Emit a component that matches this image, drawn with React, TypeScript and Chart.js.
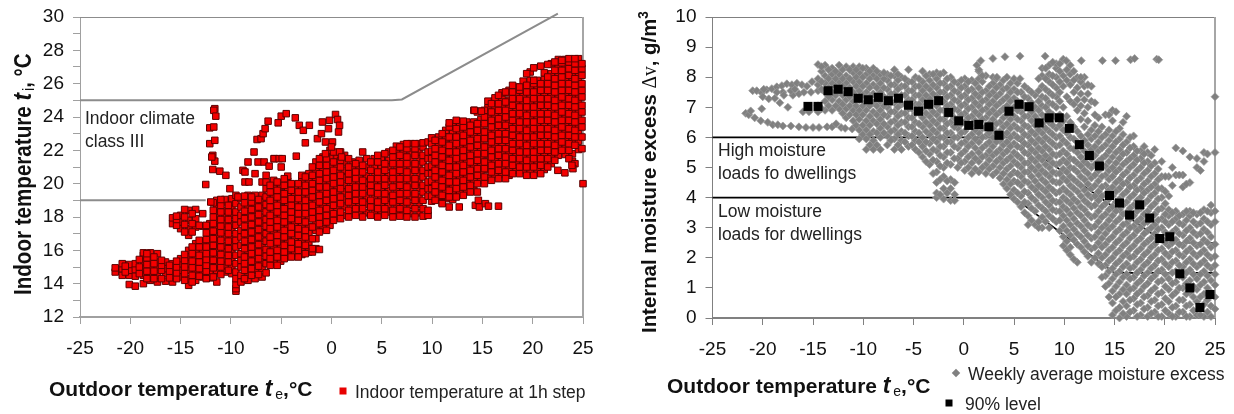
import React, { useEffect, useRef } from "react";
import { Chart, registerables } from "chart.js";

Chart.register(...registerables);

// ---------- left chart data: [outdoor temperature, indoor temperatures...] ----------
const indoorColdColumns: number[][] = [
  [-21.5, 14.7, 14.95],
  [-20.8, 14.5, 14.9, 15.2],
  [-20.1, 13.95, 14.5, 14.8, 15.15],
  [-19.5, 13.85, 14.45, 14.85, 15.2],
  [-18.7, 14.0, 14.5, 14.9, 15.3, 15.7, 15.85],
  [-18.0, 14.2, 14.6, 15.0, 15.4, 15.85],
  [-17.3, 14.1, 14.5, 14.95, 15.3, 15.8],
  [-16.5, 14.15, 14.6, 14.9, 15.3],
  [-15.8, 14.1, 14.5, 14.85, 15.2, 17.6, 17.95],
  [-15.0, 14.4, 14.8, 15.2, 15.5, 17.3, 17.7, 18.1],
  [-14.2, 13.9, 14.3, 14.8, 15.2, 15.6, 16.0, 16.9, 17.3, 17.8, 18.4],
  [-13.5, 14.2, 14.7, 15.1, 15.5, 15.9, 16.4, 17.4, 17.9, 18.45],
  [-12.8, 14.4, 14.8, 15.2, 15.6, 16.0, 16.5, 17.45, 18.2],
  [-12.1, 14.35, 14.7, 15.0, 15.5, 15.9, 16.3, 16.8, 17.2, 17.6],
  [-11.4, 14.1, 14.8, 15.2, 15.6, 16.1, 16.5, 16.9, 17.4, 17.8, 18.2, 18.6, 19.0],
  [-10.6, 14.7, 15.1, 15.5, 15.9, 16.3, 16.8, 17.2, 17.6, 18.0, 18.4, 18.9, 19.05],
  [-9.9, 14.6, 15.0, 15.5, 15.9, 16.3, 16.7, 17.2, 17.6, 18.1, 18.5, 18.9, 19.1],
  [-9.5, 13.55, 13.7, 13.95, 14.3, 14.7, 15.2, 15.7, 16.2, 16.6, 17.0, 17.5, 17.9, 18.3, 18.8, 19.3],
  [-9.0, 14.1, 14.5, 15.0, 15.4, 15.8, 16.3, 16.8, 17.2, 17.7, 18.1, 18.6, 19.1],
  [-8.3, 14.2, 14.7, 15.1, 15.6, 16.0, 16.4, 16.9, 17.3, 17.8, 18.2, 18.7, 19.3],
  [-7.6, 14.3, 14.8, 15.3, 15.7, 16.1, 16.6, 17.0, 17.5, 17.9, 18.4, 18.8, 19.3],
  [-6.9, 14.4, 14.9, 15.3, 15.8, 16.2, 16.7, 17.1, 17.6, 18.0, 18.5, 18.9, 19.3, 20.1],
];
const indoorColdInfill: number[][] = [
  [-20.5, 14.7, 15.05],
  [-19.1, 14.6, 15.0, 15.45],
  [-18.35, 14.3, 14.75, 15.15, 15.55, 15.8],
  [-17.65, 14.3, 14.75, 15.2, 15.6],
  [-16.9, 14.3, 14.8, 15.1, 15.4],
  [-16.1, 14.35, 14.75, 15.1],
  [-15.4, 14.3, 14.65, 15.0, 15.35, 17.5, 17.85, 18.05],
  [-14.6, 14.2, 14.6, 15.0, 15.4, 15.75, 17.1, 17.55, 18.0, 18.45],
  [-13.85, 14.1, 14.5, 14.95, 15.35, 15.8, 16.2, 17.1, 17.6, 18.2],
  [-13.15, 14.45, 14.9, 15.3, 15.7, 16.2, 16.6, 17.5],
  [-12.45, 14.3, 14.75, 15.1, 15.45, 15.8, 16.2, 16.65, 17.05, 17.5],
  [-11.75, 14.4, 14.95, 15.4, 15.85, 16.3, 16.7, 17.15, 17.6, 18.0, 18.4, 18.85],
  [-11.0, 14.55, 15.0, 15.35, 15.75, 16.2, 16.6, 17.05, 17.45, 17.85, 18.3, 18.7, 19.05],
  [-10.25, 14.8, 15.3, 15.7, 16.1, 16.55, 17.0, 17.4, 17.85, 18.3, 18.7],
  [-8.65, 14.3, 14.8, 15.2, 15.6, 16.1, 16.55, 17.0, 17.45, 17.9, 18.35, 18.85, 19.25],
  [-7.95, 14.5, 14.9, 15.35, 15.8, 16.2, 16.65, 17.1, 17.55, 18.0, 18.45, 18.9, 19.2],
  [-7.25, 14.55, 15.05, 15.5, 15.9, 16.35, 16.8, 17.25, 17.7, 18.15, 18.6, 19.05],
  [-6.5, 14.65, 15.2, 15.65, 16.05, 16.55, 17.0, 17.45, 17.85, 18.3, 18.75, 19.2, 19.7, 20.1],
];
const indoorMildColumns: number[][] = [
  [-6.1, 15.1, 15.5, 15.9, 16.4, 16.8, 17.3, 17.7, 18.1, 18.6, 19.0, 19.5, 19.9],
  [-5.4, 15.1, 15.6, 16.0, 16.5, 16.9, 17.4, 17.8, 18.3, 18.7, 19.2, 19.6, 20.1],
  [-4.7, 15.5, 15.9, 16.3, 16.8, 17.2, 17.7, 18.1, 18.5, 19.0, 19.4, 19.9, 20.3],
  [-4.0, 15.6, 16.1, 16.5, 17.0, 17.4, 17.9, 18.3, 18.7, 19.1, 19.6, 20.0],
  [-3.3, 15.6, 16.0, 16.4, 16.9, 17.3, 17.8, 18.2, 18.6, 19.1, 19.5, 20.0],
  [-2.6, 15.8, 16.3, 16.8, 17.2, 17.7, 18.2, 18.6, 19.0, 19.5, 19.9, 20.4],
  [-1.9, 15.9, 16.1, 16.7, 17.4, 17.9, 18.3, 18.7, 19.2, 19.6, 20.0, 20.5, 21.0],
  [-1.2, 16.05, 17.1, 17.6, 18.0, 18.4, 18.9, 19.3, 19.8, 20.2, 20.6, 21.1, 21.5],
  [-0.5, 17.2, 17.7, 18.1, 18.5, 19.0, 19.4, 19.8, 20.3, 20.7, 21.1, 21.5],
  [0.2, 17.8, 18.2, 18.7, 19.1, 19.5, 20.0, 20.4, 20.8, 21.3, 21.9],
  [0.9, 17.9, 18.3, 18.8, 19.2, 19.7, 20.1, 20.5, 21.0, 21.4, 21.9],
  [1.7, 18.0, 18.4, 18.9, 19.3, 19.7, 20.2, 20.6, 21.0, 21.5],
  [2.4, 18.1, 18.5, 19.0, 19.4, 19.8, 20.3, 20.7, 21.2],
  [3.1, 18.0, 18.5, 18.9, 19.4, 19.8, 20.2, 20.7, 21.1, 21.9],
  [3.9, 18.1, 18.6, 19.0, 19.5, 19.9, 20.3, 20.8, 21.3],
  [4.6, 18.0, 18.5, 18.9, 19.4, 19.8, 20.3, 20.7, 21.3, 21.7],
  [5.3, 18.1, 18.5, 19.0, 19.4, 19.9, 20.3, 20.8, 21.2, 21.8],
  [6.1, 18.0, 18.4, 18.9, 19.3, 19.8, 20.3, 20.7, 21.2, 21.6, 22.0],
  [6.8, 18.05, 18.5, 19.0, 19.4, 19.9, 20.3, 20.8, 21.2, 21.7, 22.2],
  [7.5, 18.0, 18.4, 18.9, 19.4, 19.8, 20.3, 20.7, 21.2, 21.6, 22.1, 22.4],
  [8.3, 18.0, 18.5, 19.0, 19.4, 19.9, 20.3, 20.8, 21.2, 21.7, 22.1, 22.4],
  [9.1, 18.05, 18.5, 19.0, 19.5, 19.9, 20.4, 20.8, 21.3, 21.7, 22.2, 22.45],
  [9.6, 18.1, 18.4, 19.25, 19.7, 20.1, 20.6, 21.0, 21.5, 21.9, 22.5],
];
const indoorMildInfill: number[][] = [
  [-5.75, 15.3, 15.75, 16.2, 16.65, 17.1, 17.5, 17.95, 18.4, 18.85, 19.3, 19.75, 20.2],
  [-5.05, 15.35, 15.8, 16.25, 16.7, 17.1, 17.55, 18.05, 18.5, 18.95, 19.4, 19.85],
  [-4.35, 15.7, 16.15, 16.6, 17.05, 17.5, 17.95, 18.35, 18.8, 19.25, 19.7, 20.15, 20.45],
  [-3.65, 15.85, 16.3, 16.75, 17.2, 17.65, 18.1, 18.5, 18.95, 19.4, 19.8],
  [-2.95, 15.75, 16.2, 16.65, 17.1, 17.55, 18.0, 18.4, 18.85, 19.3, 19.75, 20.2, 20.5],
  [-2.25, 15.9, 16.5, 17.0, 17.45, 17.95, 18.4, 18.8, 19.25, 19.7, 20.15, 20.6],
  [-1.55, 16.1, 16.7, 17.2, 17.7, 18.15, 18.55, 19.0, 19.45, 19.9, 20.35, 20.8, 21.3],
  [-0.85, 17.3, 17.8, 18.25, 18.7, 19.15, 19.55, 20.0, 20.45, 20.9, 21.3, 21.6],
  [-0.15, 17.5, 17.95, 18.4, 18.85, 19.25, 19.7, 20.15, 20.55, 21.0, 21.55, 22.0],
  [0.55, 18.05, 18.5, 18.95, 19.35, 19.8, 20.25, 20.65, 21.15, 21.65],
  [1.3, 18.1, 18.6, 19.05, 19.5, 19.9, 20.35, 20.8, 21.25, 21.7],
  [2.05, 18.2, 18.7, 19.15, 19.6, 20.0, 20.45, 20.85, 21.3],
  [2.75, 18.3, 18.75, 19.2, 19.6, 20.05, 20.5, 20.9, 21.4],
  [3.5, 18.25, 18.75, 19.2, 19.65, 20.05, 20.5, 21.0, 21.5],
  [4.25, 18.3, 18.75, 19.2, 19.6, 20.1, 20.55, 21.0, 21.5],
  [4.95, 18.25, 18.7, 19.15, 19.6, 20.05, 20.5, 20.95, 21.5],
  [5.7, 18.3, 18.75, 19.15, 19.6, 20.1, 20.5, 21.0, 21.4, 21.9],
  [6.45, 18.2, 18.7, 19.15, 19.6, 20.05, 20.5, 20.95, 21.4, 21.85, 22.25],
  [7.15, 18.25, 18.7, 19.2, 19.6, 20.05, 20.5, 20.95, 21.4, 21.9, 22.35],
  [7.9, 18.2, 18.7, 19.2, 19.65, 20.1, 20.55, 21.0, 21.45, 21.9, 22.4],
  [8.7, 18.25, 18.75, 19.2, 19.7, 20.15, 20.6, 21.05, 21.5, 21.9, 22.4],
];
const indoorWarmColumns: number[][] = [
  [10.3, 19.0, 19.5, 19.9, 20.4, 20.8, 21.3, 21.7, 22.1, 22.6],
  [11.0, 18.85, 19.3, 19.8, 20.2, 20.7, 21.1, 21.6, 22.0, 22.5, 23.0],
  [11.7, 19.2, 19.6, 20.1, 20.5, 21.0, 21.4, 21.9, 22.3, 22.8, 23.4, 23.65],
  [12.4, 19.2, 19.7, 20.1, 20.6, 21.0, 21.5, 21.9, 22.4, 22.8, 23.3, 23.8],
  [13.1, 19.3, 19.8, 20.2, 20.7, 21.1, 21.6, 22.0, 22.5, 22.9, 23.4, 23.75],
  [13.8, 19.5, 19.9, 20.4, 20.8, 21.3, 21.7, 22.2, 22.6, 23.1, 23.5],
  [14.5, 19.5, 20.0, 20.5, 20.9, 21.4, 21.8, 22.3, 22.7, 23.2, 23.6, 24.3],
  [15.2, 20.0, 20.4, 20.9, 21.3, 21.8, 22.2, 22.7, 23.1, 23.6, 24.0, 24.4],
  [15.9, 20.2, 20.7, 21.1, 21.6, 22.0, 22.5, 22.9, 23.4, 23.8, 24.3, 24.8],
  [16.6, 20.3, 20.8, 21.2, 21.7, 22.1, 22.6, 23.0, 23.5, 23.9, 24.4, 24.8, 25.3],
  [17.3, 20.3, 20.7, 21.2, 21.6, 22.1, 22.6, 23.0, 23.5, 24.0, 24.4, 24.9, 25.5],
  [18.0, 20.6, 21.1, 21.5, 22.0, 22.4, 22.9, 23.3, 23.8, 24.2, 24.7, 25.1, 25.5, 25.9],
  [18.7, 20.6, 21.0, 21.5, 21.9, 22.4, 22.8, 23.3, 23.7, 24.2, 24.6, 25.1, 25.6, 25.8],
  [19.4, 20.5, 21.0, 21.4, 21.9, 22.3, 22.8, 23.2, 23.7, 24.1, 24.6, 25.0, 25.5, 25.9, 26.6],
  [20.1, 20.5, 21.0, 21.5, 21.9, 22.4, 22.8, 23.3, 23.7, 24.2, 24.6, 25.1, 25.5, 26.0, 26.2, 26.95],
  [20.8, 20.6, 21.1, 21.5, 22.0, 22.4, 22.9, 23.3, 23.8, 24.2, 24.7, 25.1, 25.6, 26.0, 27.05],
  [21.5, 21.0, 21.5, 22.0, 22.4, 22.9, 23.3, 23.8, 24.2, 24.7, 25.1, 25.6, 26.0, 26.4, 27.15],
  [22.2, 21.4, 21.9, 22.3, 22.8, 23.2, 23.7, 24.1, 24.6, 25.0, 25.5, 25.9, 26.3, 26.8, 27.3],
  [22.9, 22.0, 22.5, 22.9, 23.4, 23.8, 24.3, 24.7, 25.2, 25.6, 26.0, 26.4, 26.8, 27.25, 27.4],
  [23.6, 21.5, 22.0, 22.4, 22.9, 23.3, 23.8, 24.2, 24.7, 25.1, 25.6, 26.0, 26.5, 26.9, 27.3, 27.5],
  [24.2, 21.2, 22.3, 22.8, 23.2, 23.7, 24.1, 24.6, 25.0, 25.5, 25.9, 26.3, 26.8, 27.2, 27.5],
  [24.9, 22.1, 22.8, 23.4, 23.8, 24.3, 24.7, 25.2, 25.6, 26.0, 26.5, 26.9, 27.2],
];
const indoorWarmInfill: number[][] = [
  [9.95, 18.95, 19.25, 19.7, 20.15, 20.6, 21.05, 21.5, 21.95, 22.4, 22.75],
  [10.65, 19.2, 19.7, 20.15, 20.6, 21.05, 21.5, 21.9, 22.35, 22.8],
  [11.35, 19.1, 19.55, 20.0, 20.45, 20.9, 21.35, 21.8, 22.25, 22.7, 23.2],
  [12.05, 19.05, 19.45, 19.9, 20.35, 20.8, 21.25, 21.7, 22.15, 22.6, 23.05, 23.45],
  [12.75, 19.4, 19.9, 20.35, 20.85, 21.3, 21.75, 22.2, 22.65, 23.1, 23.55],
  [13.45, 19.55, 20.0, 20.5, 20.95, 21.45, 21.9, 22.35, 22.8, 23.25, 23.7],
  [14.15, 19.6, 20.2, 20.65, 21.1, 21.55, 22.0, 22.45, 22.95, 23.35, 23.7, 24.4],
  [14.85, 20.2, 20.65, 21.1, 21.55, 22.0, 22.45, 22.9, 23.35, 23.85, 24.35],
  [15.55, 20.35, 20.85, 21.3, 21.75, 22.25, 22.7, 23.15, 23.6, 24.05, 24.55, 24.95],
  [16.25, 20.55, 21.0, 21.45, 21.9, 22.35, 22.8, 23.25, 23.7, 24.15, 24.6, 25.0, 25.15],
  [16.95, 20.55, 21.0, 21.45, 21.9, 22.35, 22.8, 23.3, 23.75, 24.2, 24.65, 25.1, 25.45],
  [17.65, 20.5, 20.95, 21.4, 21.85, 22.3, 22.75, 23.2, 23.65, 24.15, 24.55, 25.0, 25.45, 25.6],
  [18.35, 20.8, 21.3, 21.75, 22.2, 22.65, 23.1, 23.55, 24.0, 24.45, 24.9, 25.35, 25.8],
  [19.05, 20.8, 21.25, 21.7, 22.15, 22.6, 23.05, 23.5, 23.95, 24.4, 24.85, 25.3, 25.7, 26.15],
  [19.75, 20.75, 21.2, 21.65, 22.15, 22.6, 23.05, 23.5, 23.95, 24.4, 24.85, 25.3, 25.75, 26.2, 26.7],
  [20.45, 20.8, 21.25, 21.7, 22.2, 22.65, 23.1, 23.55, 24.0, 24.45, 24.9, 25.35, 25.8, 26.2],
  [21.15, 20.85, 21.3, 21.75, 22.2, 22.65, 23.1, 23.55, 24.0, 24.45, 24.9, 25.35, 25.8, 26.25, 26.65],
  [21.85, 21.2, 21.7, 22.15, 22.6, 23.05, 23.5, 23.95, 24.4, 24.85, 25.3, 25.75, 26.2, 26.6, 27.2],
  [22.55, 21.7, 22.2, 22.65, 23.1, 23.55, 24.0, 24.45, 24.9, 25.35, 25.8, 26.2, 26.6, 27.05, 27.45],
  [23.25, 21.75, 22.25, 22.7, 23.15, 23.6, 24.05, 24.5, 24.95, 25.4, 25.8, 26.25, 26.7, 27.1, 27.45],
  [23.95, 21.35, 21.8, 22.55, 23.0, 23.45, 23.9, 24.4, 24.85, 25.25, 25.7, 26.15, 26.6, 27.05, 27.4],
  [24.55, 22.05, 22.55, 23.0, 23.5, 23.95, 24.4, 24.85, 25.3, 25.75, 26.15, 26.65, 27.05, 27.5],
];
const indoorStrayX = [-12.5, -12.1, -12.1, -11.8, -11.6, -11.6, -11.6, -11.7, -11.8, -11.7, -11.9, -11.5, -11.1, -10.5, -10.1, -12.0, -9.3,
  -8.8, -8.6, -8.3, -7.7, -7.4, -7.3, -7.0, -6.8, -6.6, -6.3, -5.7, -5.3, -5.0, -4.5, -3.6, -3.2, -2.8, -2.2, -2.6, -3.5,
  -6.7, -6.5, -5.7, -5.2, -4.9, -5.0, -8.6, -8.2, -7.6, -6.2, -1.4, -1.0, -0.6, -0.3, -0.2, 0.4, 0.6, 0.8, 0.7, 0.1, 0.0, -0.6, -0.9, 0.8, 1.0, 14.2, 14.9,
  11.0, 11.7, 12.7, 14.3, 14.6, 14.7, 15.3, 15.6, 16.6, 25.0, 22.5, 23.2, 24.0, 23.9];
const indoorStrayY = [19.95, 23.35, 22.4, 21.7, 21.35, 22.6, 24.5, 24.4, 20.85, 23.4, 21.6, 24.05, 20.75, 20.5, 19.7, 18.9, 19.2,
  20.8, 20.1, 21.3, 21.9, 22.65, 21.3, 22.7, 23.0, 23.3, 23.75, 21.5, 23.65, 24.05, 24.2, 23.95, 23.5, 23.2, 23.5, 22.45, 21.65,
  21.3, 20.5, 21.5, 21.5, 21.5, 21.0, 20.7, 20.1, 20.6, 21.05, 22.7, 23.0, 22.5, 23.3, 23.8, 24.15, 23.85, 23.5, 23.1, 22.5, 22.2, 21.8, 23.7, 21.9, 21.6, 24.4, 24.35,
  18.8, 18.6, 18.6, 18.7, 19.0, 18.6, 18.8, 18.65, 18.65, 20.0, 20.8, 20.65, 20.9, 21.1];

const comfortUpperX = [-25, 6, 7, 22.5];
const comfortUpperY = [25, 25, 25.05, 30.2];
const comfortLowerX = [-25, -12.5];
const comfortLowerY = [19, 19];

// ---------- right chart data: [outdoor temperature, moisture excess...] ----------
const moistureTailX = [-21.7, -21.4, -21.2, -20.8, -20.2, -19.5, -19.0, -18.5, -18.0, -17.2, -16.4, -15.7, -15.0, -14.4, -13.6, -13.1, -12.7, -12.2, -11.8, -11.1,
  -21.0, -20.6, -20.1, -19.6, -19.1, -18.6, -18.1, -17.6, -17.1, -16.6, -16.1, -15.6, -15.1,
  -20.0, -19.4, -18.8, -18.3, -18.0, -17.5, -17.0, -20.1, -19.9, -18.6, -17.9, -17.2, -16.4, -16.0, -15.4, -16.8, -15.9, -15.2];
const moistureTailY = [6.8, 6.75, 6.88, 6.65, 6.55, 6.5, 6.42, 6.42, 6.38, 6.38, 6.35, 6.33, 6.33, 6.33, 6.35, 6.35, 6.45, 6.33, 6.3, 6.28,
  7.55, 7.55, 7.48, 7.58, 7.62, 7.68, 7.72, 7.78, 7.75, 7.8, 7.75, 7.7, 7.85,
  7.35, 7.28, 7.3, 7.15, 7.5, 7.0, 7.4, 6.95, 7.6, 7.5, 7.4, 7.55, 7.45, 6.85, 6.85, 7.6, 7.5, 7.5];
const moistureColdColumns: number[][] = [
  [-14.5, 6.85, 7.05, 7.55, 7.75, 7.95, 8.42],
  [-13.8, 6.9, 7.2, 7.5, 7.8, 8.05, 8.4],
  [-13.1, 6.9, 7.25, 7.5, 7.8, 8.1, 8.3],
  [-12.4, 6.95, 7.2, 7.55, 7.85, 8.1, 8.4],
  [-11.7, 6.65, 6.95, 7.25, 7.5, 7.8, 8.05, 8.35],
  [-11.0, 6.55, 6.9, 7.2, 7.5, 7.85, 8.15, 8.35],
  [-10.4, 5.95, 6.25, 6.6, 6.9, 7.25, 7.55, 7.85, 8.15, 8.35],
  [-9.7, 5.6, 5.95, 6.25, 6.55, 6.9, 7.2, 7.5, 7.8, 8.1, 8.3],
  [-9.0, 5.6, 5.9, 6.2, 6.55, 6.85, 7.15, 7.45, 7.75, 8.05, 8.3],
  [-8.3, 5.6, 6.0, 6.3, 6.6, 6.9, 7.2, 7.5, 7.8, 8.1],
  [-7.6, 5.75, 6.05, 6.35, 6.7, 7.0, 7.3, 7.6, 7.9, 8.1],
  [-6.9, 5.6, 5.95, 6.25, 6.55, 6.85, 7.15, 7.45, 7.75, 8.05, 8.25],
  [-6.2, 5.6, 5.9, 6.2, 6.5, 6.8, 7.1, 7.4, 7.7, 8.0],
  [-5.5, 5.7, 6.05, 6.35, 6.65, 6.95, 7.25, 7.55, 7.85, 8.25],
  [-4.8, 5.6, 5.9, 6.2, 6.5, 6.8, 7.1, 7.4, 7.7, 8.0],
  [-4.1, 5.35, 5.7, 6.0, 6.35, 6.65, 6.95, 7.25, 7.55, 7.85, 8.2],
  [-3.4, 5.1, 5.45, 5.8, 6.1, 6.4, 6.7, 7.0, 7.3, 7.6, 7.9, 8.1],
  [-2.7, 4.0, 4.15, 4.5, 4.85, 5.2, 5.55, 5.85, 6.15, 6.45, 6.75, 7.05, 7.35, 7.65, 7.95, 8.15],
  [-2.0, 3.95, 4.3, 4.7, 5.0, 5.35, 5.7, 6.0, 6.3, 6.6, 6.9, 7.2, 7.5, 7.8, 8.15],
  [-1.3, 3.9, 4.3, 4.6, 5.1, 5.5, 5.85, 6.15, 6.5, 6.8, 7.1, 7.4, 7.7, 8.0],
  [-0.9, 3.9, 4.1, 4.5],
  [-0.6, 5.0, 5.3, 5.65, 6.0, 6.3, 6.6, 6.9, 7.2, 7.5, 7.8],
  [0.1, 4.9, 5.2, 5.55, 5.85, 6.2, 6.5, 6.8, 7.1, 7.4, 7.7, 7.95],
  [0.8, 4.8, 5.15, 5.45, 5.8, 6.1, 6.4, 6.7, 7.0, 7.3, 7.6, 7.9],
  [1.5, 4.85, 5.2, 5.5, 5.85, 6.15, 6.45, 6.75, 7.05, 7.35, 7.65, 7.95, 8.2],
  [2.2, 4.8, 5.1, 5.4, 5.75, 6.05, 6.35, 6.65, 6.95, 7.25, 7.55, 8.05],
  [2.9, 4.75, 5.05, 5.4, 5.7, 6.0, 6.3, 6.6, 6.9, 7.2, 7.5, 7.8, 8.0],
  [3.6, 4.65, 5.0, 5.3, 5.6, 5.9, 6.2, 6.5, 6.85, 7.15, 7.45, 7.75],
];
const moistureColdInfill: number[][] = [
  [-14.15, 6.95, 7.6, 7.85, 8.2, 8.35],
  [-13.45, 7.05, 7.35, 7.65, 7.95, 8.25],
  [-12.75, 7.05, 7.4, 7.7, 7.95, 8.2],
  [-12.05, 6.8, 7.1, 7.4, 7.7, 7.95, 8.25],
  [-11.35, 6.75, 7.05, 7.35, 7.65, 7.95, 8.25],
  [-10.7, 6.4, 6.75, 7.05, 7.35, 7.7, 8.0, 8.25],
  [-10.05, 6.1, 6.4, 6.75, 7.05, 7.4, 7.7, 8.0, 8.3],
  [-9.35, 5.75, 6.1, 6.4, 6.7, 7.05, 7.35, 7.65, 7.95, 8.2],
  [-8.65, 5.75, 6.15, 6.45, 6.75, 7.05, 7.35, 7.65, 7.95, 8.2],
  [-7.95, 6.15, 6.45, 6.75, 7.05, 7.35, 7.65, 7.95, 8.15],
  [-7.25, 5.9, 6.2, 6.5, 6.85, 7.15, 7.45, 7.75, 8.05],
  [-6.55, 5.75, 6.1, 6.4, 6.7, 7.0, 7.3, 7.6, 7.9, 8.1],
  [-5.85, 5.85, 6.15, 6.5, 6.8, 7.1, 7.4, 7.7, 7.95],
  [-5.15, 5.75, 6.05, 6.35, 6.65, 6.95, 7.25, 7.55, 7.85],
  [-4.45, 5.5, 5.85, 6.15, 6.45, 6.8, 7.1, 7.4, 7.7, 7.95],
  [-3.75, 5.2, 5.55, 5.85, 6.2, 6.5, 6.8, 7.1, 7.4, 7.7, 8.05],
  [-3.05, 4.8, 5.25, 5.6, 5.95, 6.25, 6.55, 6.85, 7.15, 7.45, 7.75, 8.1],
  [-2.35, 4.1, 4.6, 5.05, 5.4, 5.7, 6.0, 6.3, 6.6, 6.9, 7.2, 7.5, 7.8, 8.1],
  [-1.65, 4.15, 4.55, 5.15, 5.5, 5.85, 6.15, 6.45, 6.75, 7.05, 7.35, 7.65, 7.95],
  [-0.95, 5.3, 5.7, 6.0, 6.35, 6.65, 6.95, 7.25, 7.55, 7.85],
  [-0.25, 5.15, 5.45, 5.8, 6.15, 6.45, 6.75, 7.05, 7.35, 7.65, 7.9],
  [0.45, 5.0, 5.35, 5.7, 6.0, 6.35, 6.65, 6.95, 7.25, 7.55, 7.85],
  [1.15, 4.95, 5.3, 5.65, 5.95, 6.25, 6.55, 6.85, 7.15, 7.45, 7.8],
  [1.85, 5.0, 5.35, 5.65, 6.0, 6.3, 6.6, 6.9, 7.2, 7.5, 7.85, 8.05],
  [2.55, 4.95, 5.25, 5.55, 5.85, 6.15, 6.45, 6.8, 7.1, 7.4, 7.7],
  [3.25, 4.85, 5.2, 5.5, 5.85, 6.15, 6.45, 6.75, 7.05, 7.35, 7.65, 7.95],
  [3.95, 4.45, 4.8, 5.15, 5.45, 5.75, 6.05, 6.35, 6.65, 6.95, 7.25, 7.6, 7.9],
];
const moistureMildColumns: number[][] = [
  [4.3, 4.3, 4.6, 4.95, 5.25, 5.55, 5.85, 6.15, 6.45, 6.75, 7.05, 7.35, 7.65, 8.0],
  [5.0, 3.95, 4.25, 4.55, 4.85, 5.2, 5.5, 5.8, 6.1, 6.4, 6.7, 7.0, 7.3, 7.6, 7.95],
  [5.7, 3.7, 4.05, 4.4, 4.7, 5.0, 5.3, 5.65, 5.95, 6.25, 6.55, 6.85, 7.15, 7.5],
  [6.4, 3.1, 3.4, 3.8, 4.15, 4.5, 4.85, 5.15, 5.45, 5.75, 6.05, 6.35, 6.7, 7.0, 7.3, 7.6],
  [7.1, 3.1, 3.55, 3.9, 4.25, 4.55, 4.9, 5.2, 5.5, 5.8, 6.1, 6.4, 6.7, 7.0, 7.4],
  [7.8, 3.0, 3.35, 3.65, 4.0, 4.3, 4.6, 4.9, 5.25, 5.55, 5.85, 6.15, 6.45, 6.75, 7.05, 7.35, 7.7, 8.05, 8.3],
  [8.5, 3.0, 3.4, 3.75, 4.05, 4.35, 4.7, 5.0, 5.3, 5.6, 5.9, 6.2, 6.5, 6.85, 7.15, 7.5, 7.85, 8.1, 8.4],
  [9.2, 3.2, 3.55, 3.85, 4.15, 4.5, 4.8, 5.1, 5.4, 5.7, 6.0, 6.3, 6.65, 7.0, 7.35, 7.65, 8.0, 8.3, 8.45],
  [9.9, 2.4, 2.7, 3.05, 3.4, 3.7, 4.0, 4.3, 4.65, 4.95, 5.25, 5.55, 5.9, 6.25, 6.55, 7.0, 7.7, 8.05, 8.6],
  [10.6, 2.1, 2.35, 2.75, 3.1, 3.45, 3.8, 4.1, 4.4, 4.7, 5.0, 5.3, 5.65, 6.0, 6.5, 7.2, 7.75, 8.1, 8.4],
  [11.3, 1.85, 2.45, 2.8, 3.15, 3.5, 3.85, 4.2, 4.5, 4.85, 5.15, 5.5, 5.85, 6.2, 6.9, 7.25, 7.65, 8.0],
  [12.0, 2.2, 2.55, 2.9, 3.25, 3.6, 3.9, 4.25, 4.6, 4.9, 5.2, 5.55, 5.9, 6.35, 6.8, 7.25, 7.7, 8.0],
  [12.7, 1.85, 2.3, 2.65, 3.0, 3.35, 3.7, 4.0, 4.3, 4.65, 5.0, 5.3, 5.6, 5.95, 6.25, 7.2, 7.7],
  [13.4, 1.8, 2.15, 2.5, 2.85, 3.2, 3.55, 3.9, 4.2, 4.55, 4.9, 5.2, 5.55, 5.85, 6.2, 6.65],
  [14.1, 1.05, 1.4, 1.75, 2.1, 2.45, 2.8, 3.1, 3.45, 3.8, 4.1, 4.4, 4.75, 5.05, 5.4, 5.75, 6.1, 6.75],
];
const moistureMildInfill: number[][] = [
  [4.65, 4.1, 4.45, 4.75, 5.05, 5.35, 5.7, 6.0, 6.3, 6.6, 6.9, 7.2, 7.5, 7.8],
  [5.35, 3.85, 4.15, 4.5, 4.8, 5.1, 5.4, 5.7, 6.0, 6.3, 6.6, 6.9, 7.2, 7.5, 7.8],
  [6.05, 3.5, 3.85, 4.2, 4.55, 4.85, 5.15, 5.5, 5.8, 6.1, 6.4, 6.7, 7.0, 7.35, 7.7],
  [6.75, 3.25, 3.65, 4.0, 4.35, 4.7, 5.0, 5.3, 5.6, 5.9, 6.2, 6.55, 6.85, 7.15, 7.5],
  [7.45, 3.0, 3.2, 3.75, 4.1, 4.4, 4.75, 5.05, 5.35, 5.65, 5.95, 6.25, 6.55, 6.9, 7.2, 7.55, 7.95],
  [8.15, 3.2, 3.55, 3.85, 4.2, 4.5, 4.8, 5.1, 5.4, 5.7, 6.0, 6.3, 6.65, 7.0, 7.3, 7.6, 7.95, 8.3],
  [8.85, 3.3, 3.6, 3.9, 4.25, 4.55, 4.85, 5.15, 5.45, 5.8, 6.1, 6.4, 6.75, 7.1, 7.4, 7.75, 8.05, 8.5],
  [9.55, 2.9, 3.25, 3.55, 3.85, 4.2, 4.5, 4.8, 5.15, 5.45, 5.75, 6.05, 6.4, 6.75, 7.2, 7.5, 7.85, 8.2, 8.45],
  [10.25, 2.25, 2.55, 2.9, 3.25, 3.6, 3.9, 4.2, 4.55, 4.85, 5.15, 5.45, 5.8, 6.15, 6.7, 7.35, 7.9, 8.25],
  [10.95, 1.95, 2.6, 2.95, 3.3, 3.65, 3.95, 4.3, 4.6, 4.95, 5.25, 5.6, 5.95, 6.35, 7.1, 7.5, 7.9, 8.2],
  [11.65, 2.35, 2.7, 3.05, 3.4, 3.7, 4.05, 4.4, 4.7, 5.05, 5.35, 5.7, 6.05, 6.6, 7.05, 7.45, 7.85, 8.0],
  [12.35, 2.05, 2.4, 2.75, 3.1, 3.45, 3.8, 4.1, 4.45, 4.8, 5.1, 5.4, 5.75, 6.1, 6.55, 7.0, 7.45, 7.75],
  [13.05, 2.0, 2.35, 2.7, 3.05, 3.4, 3.75, 4.05, 4.4, 4.75, 5.1, 5.4, 5.7, 6.05, 6.4, 6.75, 7.15],
  [13.75, 1.35, 1.7, 2.0, 2.35, 2.65, 3.0, 3.35, 3.7, 4.05, 4.35, 4.7, 5.0, 5.3, 5.65, 6.0, 6.35],
  [14.45, 0.7, 1.15, 1.55, 1.9, 2.25, 2.6, 2.95, 3.25, 3.6, 3.95, 4.25, 4.6, 4.9, 5.2, 5.55, 5.9, 6.25, 6.75],
];
const moistureWarmColumns: number[][] = [
  [14.8, 0.1, 0.5, 0.9, 1.3, 1.65, 2.0, 2.35, 2.7, 3.05, 3.4, 3.7, 4.05, 4.35, 4.7, 5.0, 5.35, 5.7, 6.05, 6.55, 6.9],
  [15.5, 0.0, 0.35, 0.8, 1.2, 1.55, 1.9, 2.25, 2.6, 2.95, 3.3, 3.6, 3.95, 4.3, 4.6, 4.95, 5.3, 5.6, 5.95, 6.3],
  [16.2, 0.05, 0.4, 0.8, 1.1, 1.45, 1.8, 2.15, 2.5, 2.85, 3.15, 3.5, 3.85, 4.2, 4.5, 4.85, 5.2, 5.5, 5.85, 6.7],
  [16.9, 0.25, 0.65, 1.0, 1.35, 1.7, 2.05, 2.4, 2.75, 3.05, 3.4, 3.75, 4.1, 4.4, 4.75, 5.1, 5.4, 5.7, 6.05],
  [17.6, 0.1, 0.5, 0.9, 1.25, 1.6, 1.95, 2.3, 2.65, 3.0, 3.3, 3.65, 4.0, 4.3, 4.65, 5.0, 5.3, 5.55],
  [18.3, 0.05, 0.35, 0.75, 1.15, 1.5, 1.85, 2.2, 2.55, 2.9, 3.2, 3.55, 3.9, 4.25, 4.55, 4.9, 5.2, 5.5],
  [19.0, 0.2, 0.6, 1.0, 1.4, 1.75, 2.1, 2.45, 2.8, 3.1, 3.45, 3.8, 4.15, 4.45, 4.8, 5.15, 5.6],
  [19.7, 0.05, 0.45, 0.85, 1.25, 1.6, 1.95, 2.3, 2.65, 3.0, 3.3, 3.65, 4.0, 4.3, 4.7, 5.2],
  [20.4, 0.15, 0.55, 0.95, 1.3, 1.7, 2.05, 2.4, 2.75, 3.1, 3.4, 3.6, 4.05, 4.7],
  [21.1, 0.05, 0.4, 0.85, 1.2, 1.55, 1.9, 2.25, 2.6, 2.95, 3.3, 3.55, 4.75, 5.65],
  [21.8, 0.2, 0.6, 1.0, 1.35, 1.7, 2.05, 2.4, 2.75, 3.1, 3.45, 4.35, 4.75, 5.55],
  [22.5, 0.05, 0.45, 0.85, 1.25, 1.6, 1.95, 2.3, 2.65, 3.0, 3.4, 3.55, 4.5, 5.35],
  [23.2, 0.1, 0.55, 0.95, 1.3, 1.7, 2.05, 2.4, 2.75, 3.1, 3.45, 5.0, 5.3],
  [23.9, 0.05, 0.45, 0.8, 1.2, 1.55, 1.9, 2.25, 2.6, 2.95, 3.3, 3.6, 5.2, 5.5],
  [24.6, 0.05, 0.4, 0.85, 1.25, 1.65, 2.0, 2.35, 2.7, 3.1, 3.5, 3.75],
  [25.0, 0.3, 0.7, 1.1, 1.45, 1.75, 2.05, 2.45, 3.2, 3.55, 5.5, 7.35],
];
const moistureWarmInfill: number[][] = [
  [15.15, 0.25, 0.7, 1.05, 1.45, 1.8, 2.15, 2.5, 2.85, 3.2, 3.55, 3.85, 4.2, 4.5, 4.85, 5.15, 5.5, 5.85, 6.2, 6.85],
  [15.85, 0.15, 0.55, 0.95, 1.35, 1.7, 2.05, 2.4, 2.75, 3.1, 3.45, 3.75, 4.1, 4.45, 4.75, 5.1, 5.45, 5.75, 6.1, 6.5],
  [16.55, 0.2, 0.6, 0.95, 1.3, 1.65, 2.0, 2.3, 2.65, 3.0, 3.3, 3.65, 4.0, 4.35, 4.65, 5.0, 5.3, 5.65, 6.0],
  [17.25, 0.05, 0.45, 0.8, 1.15, 1.5, 1.85, 2.2, 2.55, 2.9, 3.2, 3.55, 3.9, 4.25, 4.55, 4.9, 5.25, 5.55],
  [17.95, 0.3, 0.7, 1.05, 1.4, 1.75, 2.1, 2.45, 2.8, 3.15, 3.45, 3.8, 4.15, 4.45, 4.8, 5.15, 5.45, 5.7],
  [18.65, 0.15, 0.55, 0.9, 1.3, 1.65, 2.0, 2.35, 2.65, 3.0, 3.35, 3.7, 4.05, 4.35, 4.7, 5.05, 5.4],
  [19.35, 0.05, 0.4, 0.8, 1.2, 1.55, 1.9, 2.25, 2.6, 2.95, 3.25, 3.6, 3.95, 4.3, 4.6, 4.95],
  [20.05, 0.25, 0.65, 1.05, 1.45, 1.8, 2.15, 2.5, 2.85, 3.2, 3.45, 3.8, 4.2, 4.7],
  [20.75, 0.05, 0.35, 0.75, 1.15, 1.5, 1.85, 2.2, 2.5, 2.85, 3.2, 3.5, 4.4, 5.0],
  [21.45, 0.2, 0.6, 1.0, 1.4, 1.75, 2.1, 2.45, 2.8, 3.15, 3.4, 4.75],
  [22.15, 0.05, 0.4, 0.8, 1.15, 1.5, 1.85, 2.2, 2.55, 2.9, 3.25, 3.55, 4.45],
  [22.85, 0.25, 0.7, 1.05, 1.45, 1.8, 2.15, 2.5, 2.85, 3.2, 3.5],
  [23.55, 0.1, 0.35, 0.7, 1.1, 1.45, 1.8, 2.15, 2.45, 2.8, 3.15, 3.5, 4.9],
  [24.25, 0.2, 0.6, 1.0, 1.4, 1.75, 2.1, 2.5, 2.85, 3.2, 3.55, 5.45],
];
const moistureTopX = [1.5, 1.7, 1.3, 2.9, 4.1, 5.6, 8.1, 10.2, 11.7, 13.8, 15.1, 16.6, 17.0, 19.2, 19.4, 5.6, 3.3];
const moistureTopY = [8.25, 8.55, 8.4, 8.62, 8.68, 8.7, 8.7, 8.55, 8.55, 8.55, 8.55, 8.58, 8.62, 8.6, 8.58, 7.95, 8.0];

const levelX = [-15.5, -14.5, -13.5, -12.5, -11.5, -10.5, -9.5, -8.5, -7.5, -6.5, -5.5, -4.5, -3.5, -2.5, -1.5, -0.5, 0.5, 1.5, 2.5, 3.5, 4.5, 5.5, 6.5, 7.5, 8.5, 9.5, 10.5, 11.5, 12.5, 13.5, 14.5, 15.5, 16.5, 17.5, 18.5, 19.5, 20.5, 21.5, 22.5, 23.5, 24.5];
const levelY = [7.03, 7.03, 7.55, 7.6, 7.52, 7.3, 7.25, 7.33, 7.22, 7.3, 7.07, 6.87, 7.1, 7.22, 6.83, 6.55, 6.4, 6.43, 6.35, 6.07, 6.87, 7.1, 7.02, 6.48, 6.65, 6.65, 6.3, 5.76, 5.4, 5.05, 4.07, 3.82, 3.42, 3.76, 3.32, 2.64, 2.7, 1.47, 1.0, 0.35, 0.78];

const highLoadX = [-25, 5, 20, 25];
const highLoadY = [6, 6, 2.5, 2.5];
const lowLoadX = [-25, 5, 15, 25];
const lowLoadY = [4, 4, 1.5, 1.5];

const xTickLabels = [-25, -20, -15, -10, -5, 0, 5, 10, 15, 20, 25];

// ---------- helpers ----------
const SANS = '"Liberation Sans", Arial, sans-serif';
type Run = { t: string; font: string; dy?: number };
type Label = { x: number; y: number; rotate?: boolean; along?: number; across?: number; color?: string; runs: Run[] };
type Swatch = { x: number; y: number; size: number; color: string; diamond?: boolean };

const bold = (px: number) => `bold ${px}px ${SANS}`;
const italicBold = (px: number) => `italic bold ${px}px ${SANS}`;
const plain = (px: number) => `${px}px ${SANS}`;

const points = (xs: number[], ys: number[]) => xs.map((x, i) => ({ x, y: ys[i] }));
const fromColumns = (columns: number[][]) =>
  columns.flatMap(([x, ...ys]) => ys.map((y) => ({ x, y })));

const decorations = {
  id: "decorations",
  beforeDatasetsDraw(chart: any) {
    const { ctx, chartArea: a } = chart;
    const o = chart.options.plugins.decorations;
    ctx.save();
    ctx.strokeStyle = o.frameColor;
    ctx.lineWidth = 1;
    ctx.beginPath();
    ctx.moveTo(a.left, a.top + 0.5);
    ctx.lineTo(a.right, a.top + 0.5);
    ctx.stroke();
    ctx.lineWidth = 2;
    ctx.strokeStyle = "#a6a6a6";
    ctx.beginPath();
    ctx.moveTo(a.right, a.top);
    ctx.lineTo(a.right, a.bottom);
    ctx.stroke();
    ctx.restore();
  },
  afterDraw(chart: any) {
    const { ctx } = chart;
    const o = chart.options.plugins.decorations;
    ctx.save();
    ctx.textBaseline = "alphabetic";
    (o.labels as Label[]).forEach((l) => {
      ctx.save();
      ctx.translate(l.x, l.y);
      if (l.rotate) ctx.rotate(-Math.PI / 2);
      ctx.scale(l.along || 1, l.across || 1);
      ctx.fillStyle = l.color || "#111";
      let cx = 0;
      l.runs.forEach((r) => {
        ctx.font = r.font;
        ctx.fillText(r.t, cx, r.dy || 0);
        cx += ctx.measureText(r.t).width;
      });
      ctx.restore();
    });
    (o.swatches as Swatch[]).forEach((s) => {
      ctx.save();
      ctx.translate(s.x, s.y);
      if (s.diamond) ctx.rotate(Math.PI / 4);
      ctx.fillStyle = s.color;
      ctx.fillRect(-s.size / 2, -s.size / 2, s.size, s.size);
      ctx.restore();
    });
    ctx.restore();
  },
};

function axes(yMin: number, yMax: number, yCallback: (v: number) => string, left: number, bottomH: number, lineColor: string) {
  const tickFont = { family: SANS, size: 19 };
  return {
    x: {
      type: "linear",
      min: -25,
      max: 25,
      afterBuildTicks: (s: any) => { s.ticks = xTickLabels.map((value) => ({ value })); },
      grid: { drawOnChartArea: false, drawTicks: true, tickLength: 7, tickColor: lineColor },
      border: { color: lineColor, width: 2 },
      ticks: { font: tickFont, color: "#111", padding: 13, maxRotation: 0, autoSkip: false, callback: (v: number) => String(v) },
      afterFit: (s: any) => { s.height = bottomH; s.paddingLeft = 0; s.paddingRight = 0; },
    },
    y: {
      type: "linear",
      min: yMin,
      max: yMax,
      grid: { drawOnChartArea: false, drawTicks: true, tickLength: 7, tickColor: lineColor },
      border: { color: lineColor, width: 1 },
      ticks: { font: tickFont, color: "#111", padding: 9, stepSize: 1, autoSkip: false, callback: yCallback },
      afterFit: (s: any) => { s.width = left; s.paddingTop = 0; s.paddingBottom = 0; },
    },
  };
}

function baseOptions(scales: any, right: number, deco: any) {
  return {
    responsive: false,
    animation: false,
    devicePixelRatio: 1,
    layout: { padding: { top: 17, right, left: 0, bottom: 0 } },
    scales,
    plugins: { legend: { display: false }, tooltip: { enabled: false }, decorations: deco },
  };
}

function limitLine(label: string, xs: number[], ys: number[], color: string, width: number) {
  return {
    label,
    data: points(xs, ys),
    showLine: true,
    borderColor: color,
    borderWidth: width,
    pointRadius: 0,
    clip: false,
  };
}

function leftConfig(): any {
  return {
    type: "scatter",
    data: {
      datasets: [
        {
          label: "Indoor temperature at 1h step",
          data: [...fromColumns(indoorColdColumns), ...fromColumns(indoorColdInfill), ...fromColumns(indoorMildInfill), ...fromColumns(indoorMildColumns), ...fromColumns(indoorWarmInfill), ...fromColumns(indoorWarmColumns), ...points(indoorStrayX, indoorStrayY)],
          pointStyle: "rect",
          pointRadius: 4.6,
          backgroundColor: "#f40000",
          borderColor: "#5c0000",
          borderWidth: 1,
          clip: false,
        },
        limitLine("Upper limit", comfortUpperX, comfortUpperY, "#8c8c8c", 2),
        limitLine("Lower limit", comfortLowerX, comfortLowerY, "#8c8c8c", 2),
      ],
    },
    options: baseOptions(
      axes(12, 30, (v: number) => (v % 2 === 0 ? String(v) : ""), 80, 97, "#a0a0a0"),
      34,
      {
        frameColor: "#8c8c8c",
        labels: [
          { x: 49, y: 396, runs: [{ t: "Outdoor temperature ", font: bold(21) }, { t: "t", font: italicBold(23) }, { t: " ", font: plain(10) }, { t: "e", font: plain(14), dy: 3 }, { t: ",", font: bold(21) }, { t: "°C", font: bold(21) }] },
          { x: 355, y: 398, color: "#222", runs: [{ t: "Indoor temperature at 1h step", font: plain(17.5) }] },
          { x: 31, y: 295, rotate: true, along: 0.98, across: 1.13, runs: [{ t: "Indoor temperature ", font: bold(21) }, { t: "t", font: italicBold(23) }, { t: " ", font: plain(8) }, { t: "i", font: plain(14), dy: 3 }, { t: ",", font: bold(21) }, { t: " °C", font: bold(21) }] },
          { x: 85, y: 124, color: "#222", runs: [{ t: "Indoor climate", font: plain(17.5) }] },
          { x: 85, y: 147, color: "#222", runs: [{ t: "class III", font: plain(17.5) }] },
        ],
        swatches: [{ x: 343, y: 391, size: 7, color: "#e80000" }],
      },
    ),
  };
}

function rightConfig(): any {
  return {
    type: "scatter",
    data: {
      datasets: [
        {
          label: "90% level",
          data: points(levelX, levelY),
          pointStyle: "rect",
          pointRadius: 6.4,
          backgroundColor: "#000",
          borderColor: "#000",
          borderWidth: 0,
          clip: false,
        },
        {
          label: "Weekly average moisture excess",
          data: [...points(moistureTailX, moistureTailY), ...fromColumns(moistureColdColumns), ...fromColumns(moistureColdInfill), ...fromColumns(moistureMildColumns), ...fromColumns(moistureMildInfill), ...fromColumns(moistureWarmColumns), ...fromColumns(moistureWarmInfill), ...points(moistureTopX, moistureTopY)],
          pointStyle: "rectRot",
          pointRadius: 4,
          backgroundColor: "#808080",
          borderColor: "#9a9a9a",
          borderWidth: 0.7,
          clip: false,
        },
        limitLine("High moisture loads", highLoadX, highLoadY, "#000", 1.6),
        limitLine("Low moisture loads", lowLoadX, lowLoadY, "#000", 1.6),
      ],
    },
    options: baseOptions(
      axes(0, 10, (v: number) => String(v), 95.5, 96, "#808080"),
      19,
      {
        frameColor: "#808080",
        labels: [
          { x: 50, y: 393, runs: [{ t: "Outdoor temperature ", font: bold(21) }, { t: "t", font: italicBold(23) }, { t: " ", font: plain(10) }, { t: "e", font: plain(14), dy: 3 }, { t: ",", font: bold(21) }, { t: "°C", font: bold(21) }] },
          { x: 351, y: 380, color: "#222", runs: [{ t: "Weekly average moisture excess", font: plain(17.5) }] },
          { x: 348, y: 410, color: "#222", runs: [{ t: "90% level", font: plain(17.5) }] },
          { x: 39, y: 333, rotate: true, along: 0.97, runs: [{ t: "Internal moisture excess ", font: bold(21) }, { t: "Δv", font: `20px "Liberation Serif", serif` }, { t: ", g/m", font: bold(21) }, { t: "3", font: bold(14), dy: -8 }] },
          { x: 101, y: 156, color: "#222", runs: [{ t: "High moisture", font: plain(17.5) }] },
          { x: 101, y: 179, color: "#222", runs: [{ t: "loads fo dwellings", font: plain(17.5) }] },
          { x: 101, y: 217, color: "#222", runs: [{ t: "Low moisture", font: plain(17.5) }] },
          { x: 101, y: 240, color: "#222", runs: [{ t: "loads for dwellings", font: plain(17.5) }] },
        ],
        swatches: [
          { x: 339, y: 373, size: 6, color: "#808080", diamond: true },
          { x: 332, y: 403, size: 7, color: "#000" },
        ],
      },
    ),
  };
}

function Panel({ left, width, build }: { left: number; width: number; build: () => any }) {
  const ref = useRef<HTMLCanvasElement>(null);
  useEffect(() => {
    const chart = new Chart(ref.current as HTMLCanvasElement, { ...build(), plugins: [decorations] });
    return () => chart.destroy();
  }, []);
  return <canvas ref={ref} width={width} height={414} style={{ position: "absolute", left, top: 0, width, height: 414 }} />;
}

export default function App() {
  return (
    <div style={{ position: "absolute", left: 0, top: 0, width: 1234, height: 414, background: "#fff", overflow: "hidden" }}>
      <Panel left={0} width={617} build={leftConfig} />
      <Panel left={617} width={617} build={rightConfig} />
    </div>
  );
}
